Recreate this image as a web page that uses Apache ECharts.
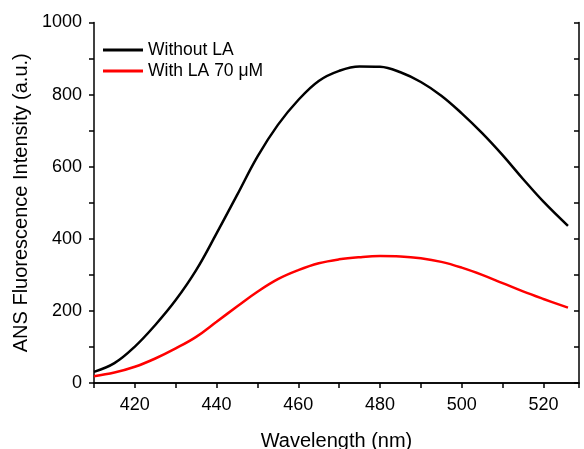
<!DOCTYPE html>
<html><head><meta charset="utf-8">
<script src="https://cdn.jsdelivr.net/npm/echarts@6/dist/echarts.min.js"></script>
<style>html,body{margin:0;padding:0;background:#fff}#c{width:584px;height:449px}</style>
</head><body><div id="c"></div>
<script>
const wavelengths = [410,415,420,425,430,435,440,445,450,455,460,465,470,475,480,485,490,495,500,505,510,515,520,526];
const withoutLA   = [31,55,101,161,230,313,415,521,628,716,785,838,866,878,877,862,835,797,748,693,632,566,503,436];
const withLA70    = [19,29,45,68,96,128,170,212,253,288,313,332,343,349,352,351,346,336,320,300,277,254,233,209];
const seriesNames = ['Without LA', 'With LA 70 μM'];
const xTicks = [420,440,460,480,500,520];

const toPairs = (xs, ys) => xs.map((x, i) => [x, ys[i]]);
const font = 'Liberation Sans, Arial, sans-serif';
const chart = echarts.init(document.getElementById('c'));
chart.setOption({
  animation: false,
  grid: {left: 94, right: 5, top: 22.5, bottom: 66, containLabel: false, outerBoundsMode: 'none'},
  legend: {
    orient: 'vertical', left: 98, top: 36, itemWidth: 40, itemHeight: 3, itemGap: 3,
    icon: 'rect',
    textStyle: {fontFamily: font, fontSize: 17.5, color: '#000'},
    data: seriesNames
  },
  xAxis: [{
    type: 'value', min: 410, max: 528.7, interval: 10,
    name: 'Wavelength (nm)', nameLocation: 'middle', nameGap: 48,
    nameTextStyle: {fontFamily: font, fontSize: 20, color: '#000'},
    axisLine: {lineStyle: {color: '#000', width: 1.5}},
    axisTick: {inside: false, length: 5, lineStyle: {color: '#000', width: 1.5}},
    axisLabel: {fontFamily: font, fontSize: 18, color: '#000', margin: 13,
      formatter: v => xTicks.includes(v) ? String(v) : ''},
    splitLine: {show: false}
  }, {
    type: 'value', position: 'top', min: 410, max: 528.7, interval: 10,
    axisLine: {lineStyle: {color: '#000', width: 1.5}},
    axisTick: {inside: true, length: 5, lineStyle: {color: '#000', width: 1.5}},
    axisLabel: {show: false}, splitLine: {show: false}
  }],
  yAxis: [{
    type: 'value', min: 0, max: 1000, interval: 100,
    name: 'ANS Fluorescence Intensity (a.u.)', nameLocation: 'middle', nameGap: 63,
    nameTextStyle: {fontFamily: font, fontSize: 20, color: '#000'},
    axisLine: {show: true, lineStyle: {color: '#000', width: 1.5}},
    axisTick: {show: true, inside: false, length: 5, lineStyle: {color: '#000', width: 1.5}},
    axisLabel: {fontFamily: font, fontSize: 18, color: '#000', margin: 12,
      formatter: v => v % 200 === 0 ? String(v) : ''},
    splitLine: {show: false}
  }, {
    type: 'value', position: 'right', min: 0, max: 1000, interval: 100,
    axisLine: {show: true, lineStyle: {color: '#000', width: 1.5}},
    axisTick: {show: true, inside: true, length: 5, lineStyle: {color: '#000', width: 1.5}},
    axisLabel: {show: false}, splitLine: {show: false}
  }],
  series: [{
    name: seriesNames[0], type: 'line', smooth: 0.4, showSymbol: false,
    data: toPairs(wavelengths, withoutLA),
    lineStyle: {color: '#000', width: 2.5}, itemStyle: {color: '#000'}
  }, {
    name: seriesNames[1], type: 'line', smooth: 0.4, showSymbol: false,
    data: toPairs(wavelengths, withLA70),
    lineStyle: {color: '#ff0000', width: 2.5}, itemStyle: {color: '#ff0000'}
  }]
});
</script></body></html>
